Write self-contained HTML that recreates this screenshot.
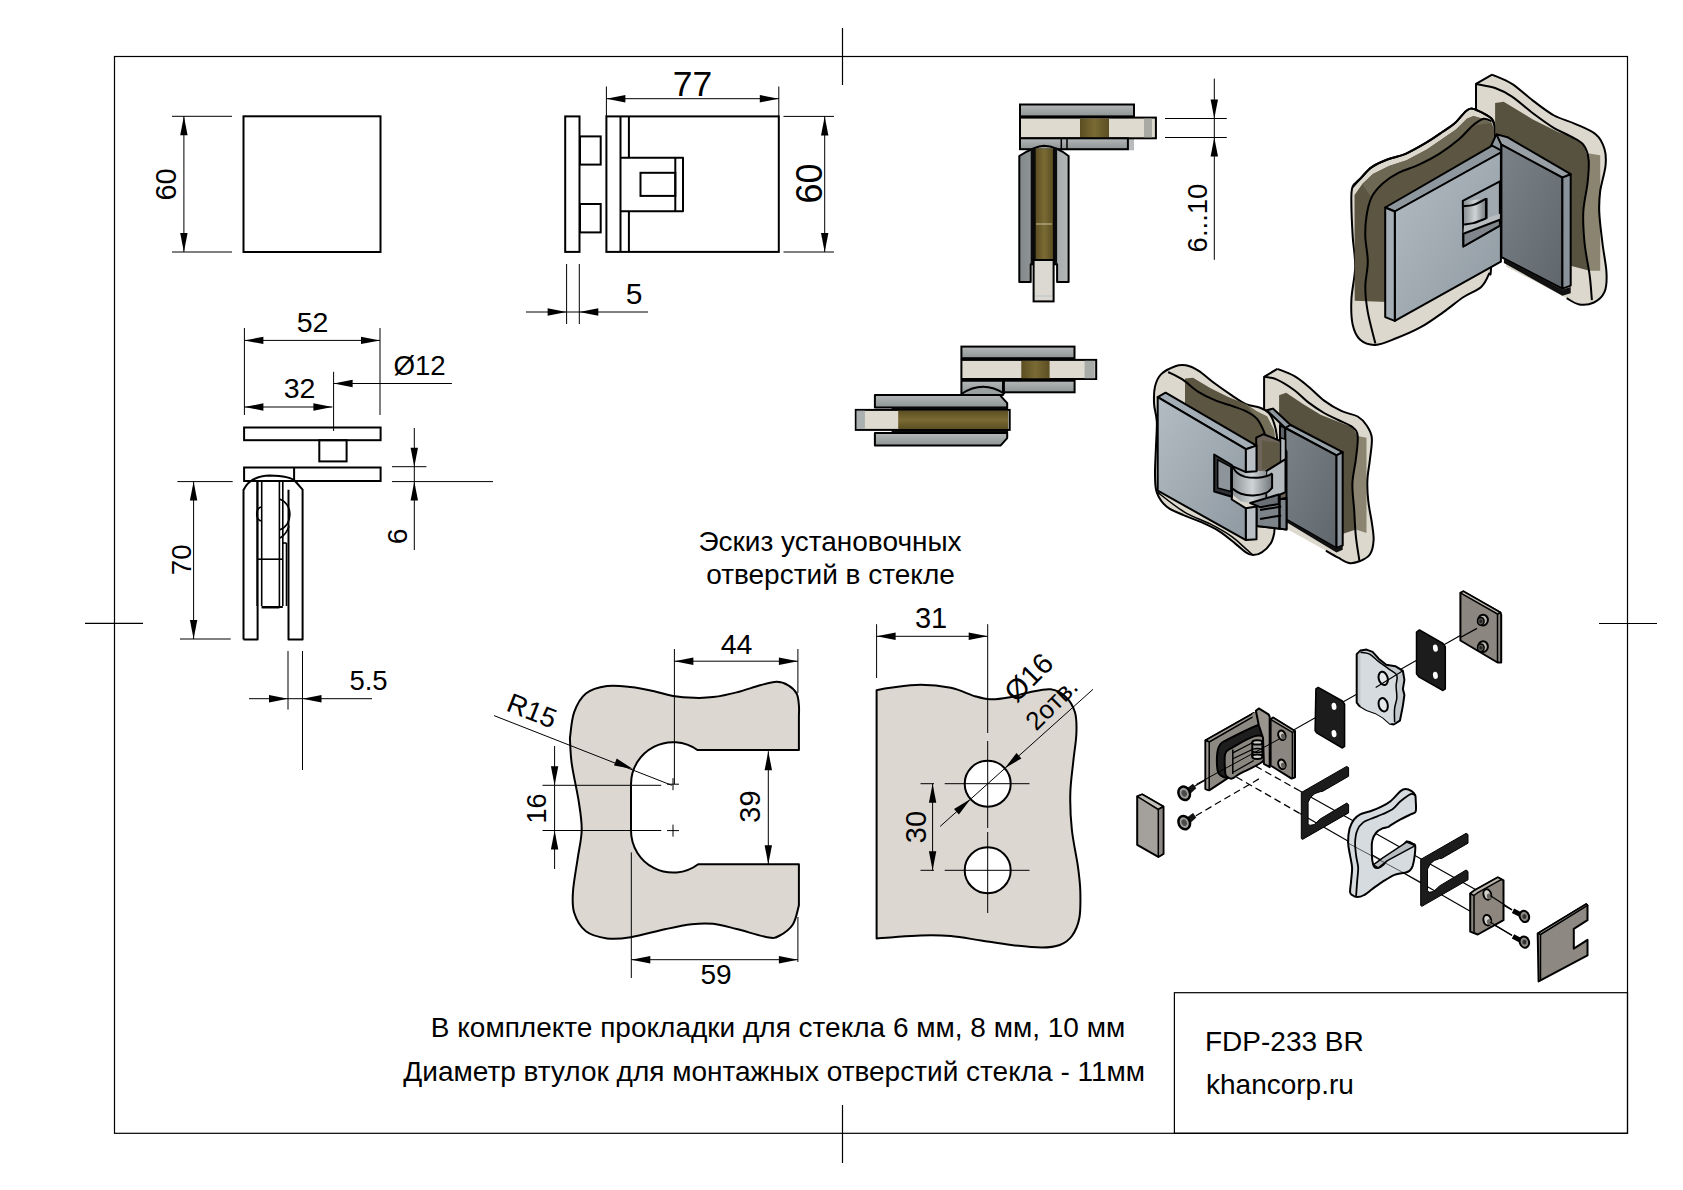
<!DOCTYPE html>
<html><head><meta charset="utf-8"><style>
html,body{margin:0;padding:0;background:#fff;width:1683px;height:1190px;overflow:hidden}
svg{position:absolute;left:0;top:0}
text{font-family:"Liberation Sans",sans-serif;fill:#000}
</style></head><body>
<svg width="1683" height="1190" viewBox="0 0 1683 1190">
<rect x="114.5" y="56.5" width="1513.0" height="1076.8" fill="none" stroke="#000" stroke-width="1.2"/>
<line x1="842.5" y1="28.0" x2="842.5" y2="85.0" stroke="#000" stroke-width="1.2" />
<line x1="842.5" y1="1105.0" x2="842.5" y2="1163.0" stroke="#000" stroke-width="1.2" />
<line x1="85.0" y1="623.4" x2="143.0" y2="623.4" stroke="#000" stroke-width="1.2" />
<line x1="1599.0" y1="623.5" x2="1657.0" y2="623.5" stroke="#000" stroke-width="1.2" />
<rect x="243.5" y="116.3" width="137.0" height="135.7" fill="none" stroke="#000" stroke-width="2"/>
<line x1="172.0" y1="116.3" x2="232.0" y2="116.3" stroke="#000" stroke-width="1" />
<line x1="172.0" y1="252.0" x2="232.0" y2="252.0" stroke="#000" stroke-width="1" />
<line x1="183.9" y1="116.3" x2="183.9" y2="252.0" stroke="#000" stroke-width="1" />
<polygon points="183.9,116.3 187.6,135.3 180.2,135.3" fill="#000"/>
<polygon points="183.9,252.0 180.2,233.0 187.6,233.0" fill="#000"/>
<text transform="translate(176.0,184.4) rotate(-90)" text-anchor="middle" font-size="29" >60</text>
<rect x="565.2" y="116.4" width="14.3" height="135.5" fill="none" stroke="#000" stroke-width="2"/>
<rect x="580.0" y="136.4" width="20.7" height="28.2" fill="none" stroke="#000" stroke-width="2"/>
<rect x="580.0" y="204.0" width="20.7" height="28.4" fill="none" stroke="#000" stroke-width="2"/>
<rect x="606.4" y="116.4" width="172.4" height="135.5" fill="none" stroke="#000" stroke-width="2"/>
<line x1="620.5" y1="116.4" x2="620.5" y2="251.9" stroke="#000" stroke-width="2" />
<line x1="628.9" y1="116.4" x2="628.9" y2="157.8" stroke="#000" stroke-width="2" />
<line x1="628.9" y1="211.2" x2="628.9" y2="251.9" stroke="#000" stroke-width="2" />
<polyline points="620.5,157.8 683.0,157.8 683.0,211.2 620.5,211.2" fill="none" stroke="#000" stroke-width="2" stroke-linejoin="round" />
<line x1="675.3" y1="157.8" x2="675.3" y2="211.2" stroke="#000" stroke-width="2" />
<rect x="640.5" y="172.8" width="34.8" height="23.1" fill="none" stroke="#000" stroke-width="2"/>
<line x1="606.4" y1="86.5" x2="606.4" y2="116.0" stroke="#000" stroke-width="1" />
<line x1="778.8" y1="86.5" x2="778.8" y2="116.0" stroke="#000" stroke-width="1" />
<line x1="606.4" y1="98.7" x2="778.8" y2="98.7" stroke="#000" stroke-width="1" />
<polygon points="606.4,98.7 625.4,95.0 625.4,102.4" fill="#000"/>
<polygon points="778.8,98.7 759.8,102.4 759.8,95.0" fill="#000"/>
<text x="692.5" y="95.7" text-anchor="middle" font-size="35.5" >77</text>
<line x1="783.5" y1="116.4" x2="834.0" y2="116.4" stroke="#000" stroke-width="1" />
<line x1="783.5" y1="252.0" x2="834.0" y2="252.0" stroke="#000" stroke-width="1" />
<line x1="824.7" y1="116.4" x2="824.7" y2="252.0" stroke="#000" stroke-width="1" />
<polygon points="824.7,116.4 828.4,135.4 821.0,135.4" fill="#000"/>
<polygon points="824.7,252.0 821.0,233.0 828.4,233.0" fill="#000"/>
<text transform="translate(821.7,183.5) rotate(-90)" text-anchor="middle" font-size="36" >60</text>
<line x1="566.6" y1="264.0" x2="566.6" y2="324.0" stroke="#000" stroke-width="1" />
<line x1="579.3" y1="264.0" x2="579.3" y2="324.0" stroke="#000" stroke-width="1" />
<line x1="526.0" y1="312.0" x2="648.0" y2="312.0" stroke="#000" stroke-width="1" />
<polygon points="566.6,312.0 547.6,315.7 547.6,308.3" fill="#000"/>
<polygon points="579.3,312.0 598.3,308.3 598.3,315.7" fill="#000"/>
<text x="634.0" y="304.2" text-anchor="middle" font-size="30" >5</text>
<defs><linearGradient id="gplate" x1="0" y1="0" x2="0" y2="1"><stop offset="0" stop-color="#b4b8b8"/><stop offset="1" stop-color="#8e9394"/></linearGradient><linearGradient id="gplateV" x1="0" y1="0" x2="1" y2="0"><stop offset="0" stop-color="#83888a"/><stop offset="1" stop-color="#b3b7b7"/></linearGradient><linearGradient id="gbrownV" x1="0" y1="0" x2="1" y2="0"><stop offset="0" stop-color="#5c4e22"/><stop offset="0.5" stop-color="#7a6a34"/><stop offset="1" stop-color="#5c4e22"/></linearGradient><linearGradient id="gbrownH" x1="0" y1="0" x2="0" y2="1"><stop offset="0" stop-color="#5c4e22"/><stop offset="0.5" stop-color="#7a6a34"/><stop offset="1" stop-color="#5c4e22"/></linearGradient></defs>
<rect x="1061" y="138.3" width="73" height="12" fill="#b9bcbd"/>
<rect x="1020.0" y="104.5" width="114.0" height="11.9" fill="url(#gplate)" stroke="#000" stroke-width="2"/>
<rect x="1020.0" y="117.6" width="135.9" height="20.7" fill="#dedacf" stroke="#000" stroke-width="2"/>
<rect x="1080" y="118.6" width="29" height="18.7" fill="url(#gbrownV)"/>
<rect x="1144" y="118.6" width="8" height="18.7" fill="#a9aaa4"/>
<rect x="1020.0" y="138.3" width="107.9" height="10.9" fill="url(#gplate)" stroke="#000" stroke-width="2"/>
<line x1="1061.3" y1="138.3" x2="1061.3" y2="149.2" stroke="#000" stroke-width="1.5" />
<line x1="1067.0" y1="138.3" x2="1067.0" y2="149.2" stroke="#000" stroke-width="1.5" />
<path d="M1019.3,282.1 L1019.3,156 Q1035,146 1044,145.7 Q1056,146 1068.6,156 L1068.6,282.1 L1057.1,282.1 L1057.1,264.3 L1030.7,264.3 L1030.7,282.1 Z" fill="url(#gplateV)" stroke="#000" stroke-width="2" stroke-linejoin="round" />
<rect x="1030.7" y="148.6" width="26.4" height="115.7" fill="#0a0a0a"/>
<rect x="1035.7" y="148.6" width="17.2" height="111.4" fill="url(#gbrownV)"/>
<line x1="1036.0" y1="224.0" x2="1052.0" y2="224.0" stroke="#c9c0a0" stroke-width="1" />
<rect x="1033.6" y="260.0" width="20.0" height="41.4" fill="#dcd8d2" stroke="#000" stroke-width="2"/>
<line x1="1035.0" y1="296.0" x2="1052.0" y2="296.0" stroke="#b8c4c8" stroke-width="1" />
<line x1="1165.0" y1="118.5" x2="1226.8" y2="118.5" stroke="#000" stroke-width="1" />
<line x1="1165.0" y1="137.5" x2="1226.8" y2="137.5" stroke="#000" stroke-width="1" />
<line x1="1214.3" y1="78.6" x2="1214.3" y2="259.8" stroke="#000" stroke-width="1" />
<polygon points="1214.3,118.5 1210.6,99.5 1218.0,99.5" fill="#000"/>
<polygon points="1214.3,137.5 1218.0,156.5 1210.6,156.5" fill="#000"/>
<text transform="translate(1206.5,218.0) rotate(-90)" text-anchor="middle" font-size="27.5" >6...10</text>
<rect x="961.4" y="346.6" width="113.1" height="11.6" fill="url(#gplate)" stroke="#000" stroke-width="2"/>
<rect x="961.4" y="359.9" width="134.8" height="19.1" fill="#dedacf" stroke="#000" stroke-width="2"/>
<rect x="1021.3" y="360.8" width="28.3" height="17.5" fill="url(#gbrownV)"/>
<rect x="1084.6" y="360.8" width="10.0" height="17.5" fill="#a8aba8"/>
<rect x="1003.9" y="380.7" width="70.7" height="11.6" fill="url(#gplate)" stroke="#000" stroke-width="2"/>
<polygon points="961.4,380.7 1003.0,380.7 1003.0,394.9 961.4,394.9" fill="url(#gplate)" stroke="#000" stroke-width="2" stroke-linejoin="round" />
<path d="M961.4,394.0 Q983.1,379.6 1004.7,394.0" fill="#9a9fa0" stroke="#000" stroke-width="2" stroke-linejoin="round" />
<polygon points="874.9,394.9 999.7,394.9 1007.2,403.2 1007.2,407.4 874.9,407.4" fill="url(#gplate)" stroke="#000" stroke-width="2" stroke-linejoin="round" />
<rect x="891.6" y="407.4" width="116.5" height="3.3" fill="#0a0a0a"/>
<rect x="891.6" y="429.8" width="116.5" height="3.3" fill="#0a0a0a"/>
<rect x="855.8" y="409.9" width="153.9" height="20.0" fill="#dedacf" stroke="#000" stroke-width="2"/>
<rect x="898.2" y="410.7" width="109.8" height="18.3" fill="url(#gbrownH)"/>
<rect x="856.6" y="410.7" width="8.3" height="18.3" fill="#aab0b0"/>
<polygon points="874.9,433.1 1007.2,433.1 1007.2,438.1 1000.5,445.6 874.9,445.6" fill="url(#gplate)" stroke="#000" stroke-width="2" stroke-linejoin="round" />
<defs><linearGradient id="gface" x1="0" y1="0" x2="1" y2="1"><stop offset="0" stop-color="#b3bcc3"/><stop offset="1" stop-color="#8f99a1"/></linearGradient><linearGradient id="gface2" x1="0" y1="0" x2="1" y2="1"><stop offset="0" stop-color="#7b8288"/><stop offset="1" stop-color="#5f666c"/></linearGradient><linearGradient id="gbar" x1="0" y1="0" x2="1" y2="0"><stop offset="0" stop-color="#8a9094"/><stop offset="0.5" stop-color="#d0d4d6"/><stop offset="1" stop-color="#70767a"/></linearGradient></defs>
<polygon points="1476.0,83.9 1492.1,74.6 1512.0,83.9 1532.9,100.6 1554.1,115.5 1575.0,123.8 1595.9,134.4 1604.5,149.0 1605.5,165.9 1600.2,191.1 1599.2,212.0 1602.5,243.5 1606.5,273.0 1604.5,291.9 1593.9,302.5 1579.3,304.5 1566.7,298.2 1506.5,266.7 1476.0,143.2" fill="#dcd8cd" stroke="#000" stroke-width="0" stroke-linejoin="round" />
<polygon points="1495.1,102.9 1503.7,101.8 1532.9,119.5 1558.1,132.1 1575.0,138.4 1583.3,144.7 1588.6,159.6 1587.6,182.5 1583.3,212.0 1584.6,243.5 1589.6,270.7 1566.7,264.7 1501.4,236.5 1495.1,140.7" fill="#57523f" stroke="#000" stroke-width="0" stroke-linejoin="round" />
<polygon points="1587.6,153.3 1600.2,155.3 1600.2,270.7 1589.6,270.7 1584.6,243.5 1583.3,212.0 1587.6,182.5 1588.6,159.6" fill="#8a8470" stroke="#000" stroke-width="0" stroke-linejoin="round" />
<path d="M1492.1,74.6 C1495.4,76.2 1505.2,79.6 1512.0,83.9 C1518.8,88.3 1525.9,95.3 1532.9,100.6 C1539.9,105.8 1547.1,111.6 1554.1,115.5 C1561.1,119.3 1568.0,120.6 1575.0,123.8 C1582.0,126.9 1591.0,130.2 1595.9,134.4 C1600.9,138.6 1602.9,143.7 1604.5,149.0 C1606.1,154.2 1606.2,158.9 1605.5,165.9 C1604.8,172.9 1601.3,183.4 1600.2,191.1 C1599.2,198.8 1598.8,203.3 1599.2,212.0 C1599.6,220.7 1601.3,233.3 1602.5,243.5 C1603.7,253.7 1606.2,264.9 1606.5,273.0 C1606.9,281.1 1606.6,287.0 1604.5,291.9 C1602.4,296.8 1598.1,300.4 1593.9,302.5 C1589.7,304.6 1583.8,305.2 1579.3,304.5 C1574.8,303.8 1568.8,299.3 1566.7,298.2" fill="none" stroke="#000" stroke-width="2" stroke-linejoin="round" />
<polyline points="1476.0,143.2 1476.0,83.9 1492.1,74.6" fill="none" stroke="#000" stroke-width="2" stroke-linejoin="round" />
<path d="M1476.0,83.9 C1479.1,84.6 1489.1,85.9 1495.1,88.0 C1501.1,90.1 1505.7,92.4 1512.0,96.6 C1518.3,100.8 1525.9,107.9 1532.9,113.2 C1539.9,118.4 1547.8,124.2 1554.1,128.1 C1560.4,131.9 1565.9,133.6 1570.7,136.4 C1575.6,139.2 1580.4,140.8 1583.3,144.7 C1586.3,148.6 1587.9,153.3 1588.6,159.6 C1589.3,165.9 1588.5,173.8 1587.6,182.5 C1586.7,191.2 1583.8,201.8 1583.3,212.0 C1582.8,222.2 1583.6,233.0 1584.6,243.5 C1585.7,254.0 1588.4,265.6 1589.6,275.0 C1590.9,284.5 1591.5,296.0 1591.9,300.2" fill="none" stroke="#000" stroke-width="2" stroke-linejoin="round" />
<path d="M1352.4,187.3 C1354.0,182.6 1357.8,181.3 1361.0,178.0 C1364.2,174.6 1367.3,170.2 1371.8,167.1 C1376.3,164.0 1382.3,161.5 1388.0,159.3 C1393.6,157.1 1399.3,156.5 1405.6,153.8 C1411.9,151.0 1419.7,146.5 1425.8,142.9 C1431.8,139.4 1437.0,135.7 1441.9,132.3 C1446.8,129.0 1451.3,126.3 1455.3,122.8 C1459.3,119.2 1463.2,113.3 1466.1,110.9 C1469.0,108.6 1469.8,108.2 1472.7,108.7 C1475.6,109.1 1480.4,111.8 1483.5,113.4 C1486.7,115.1 1489.8,116.9 1491.6,118.7 C1493.3,120.5 1493.7,120.2 1494.1,124.3 C1494.5,128.3 1494.6,120.0 1494.1,142.9 C1493.6,165.8 1492.2,239.8 1491.3,261.7 C1490.4,283.6 1490.5,270.1 1488.8,274.3 C1487.1,278.5 1485.4,283.1 1481.2,286.9 C1477.0,290.7 1469.9,292.8 1463.6,297.0 C1457.3,301.2 1450.6,307.0 1443.4,312.1 C1436.3,317.1 1428.7,322.8 1420.7,327.2 C1412.8,331.6 1403.1,335.6 1395.5,338.5 C1388.0,341.5 1381.3,344.6 1375.4,344.9 C1369.5,345.1 1364.0,343.2 1360.2,339.8 C1356.5,336.4 1354.2,331.4 1352.7,324.7 C1351.2,318.0 1351.0,309.1 1351.4,299.5 C1351.8,289.8 1355.0,277.2 1355.2,266.7 C1355.4,256.2 1353.3,246.5 1352.7,236.5 C1352.1,226.4 1351.5,214.4 1351.4,206.2 C1351.4,198.0 1350.8,192.0 1352.4,187.3 Z" fill="#dcd8cd" stroke="#000" stroke-width="2" stroke-linejoin="round" />
<polygon points="1354.5,194.9 1362.3,184.0 1372.9,173.9 1389.0,165.9 1406.6,160.3 1426.8,149.5 1442.9,138.6 1456.0,129.6 1466.9,118.7 1473.4,116.0 1483.5,119.0 1491.6,123.0 1494.1,128.6 1494.1,261.7 1388.0,302.0 1354.7,300.7" fill="#5b5541" stroke="#000" stroke-width="0" stroke-linejoin="round" />
<polygon points="1362.3,184.0 1372.9,173.9 1389.0,165.9 1406.6,160.3 1426.8,149.5 1442.9,138.6 1456.0,129.6 1466.9,118.7 1473.4,116.0 1483.5,119.0 1491.6,123.0 1472.7,125.5 1459.3,138.9 1439.2,153.8 1419.0,164.6 1398.8,172.7 1382.7,183.5 1370.3,196.1" fill="#6d6853" stroke="#000" stroke-width="0" stroke-linejoin="round" />
<path d="M1352.4,187.3 C1353.9,185.7 1357.8,181.3 1361.0,178.0 C1364.2,174.6 1367.3,170.2 1371.8,167.1 C1376.3,164.0 1382.3,161.5 1388.0,159.3 C1393.6,157.1 1399.3,156.5 1405.6,153.8 C1411.9,151.0 1419.7,146.5 1425.8,142.9 C1431.8,139.4 1437.0,135.7 1441.9,132.3 C1446.8,129.0 1451.3,126.3 1455.3,122.8 C1459.3,119.2 1463.2,113.3 1466.1,110.9 C1469.0,108.6 1469.8,108.2 1472.7,108.7 C1475.6,109.1 1480.4,111.8 1483.5,113.4 C1486.7,115.1 1489.8,116.9 1491.6,118.7 C1493.3,120.5 1493.7,123.4 1494.1,124.3" fill="none" stroke="#000" stroke-width="2" stroke-linejoin="round" />
<path d="M1491.6,121.5 C1490.2,121.0 1486.7,118.1 1483.5,118.7 C1480.4,119.4 1476.7,122.2 1472.7,125.5 C1468.6,128.9 1464.9,134.2 1459.3,138.9 C1453.7,143.6 1445.9,149.5 1439.2,153.8 C1432.4,158.1 1425.7,161.5 1419.0,164.6 C1412.3,167.8 1404.9,169.5 1398.8,172.7 C1392.8,175.8 1387.2,179.5 1382.7,183.5 C1378.2,187.6 1374.5,191.5 1371.8,196.9 C1369.2,202.2 1367.6,208.9 1366.6,215.5 C1365.5,222.1 1365.1,228.8 1365.3,236.5 C1365.5,244.1 1367.8,253.3 1367.8,261.7 C1367.8,270.1 1365.3,278.5 1365.3,286.9 C1365.3,295.3 1366.1,302.6 1367.8,312.1 C1369.5,321.5 1374.1,338.3 1375.4,343.6" fill="none" stroke="#000" stroke-width="2" stroke-linejoin="round" />
<polygon points="1385.2,207.5 1496.9,142.9 1500.9,145.7 1500.9,152.5 1394.8,211.5" fill="#8e979e" stroke="#000" stroke-width="2" stroke-linejoin="round" />
<polygon points="1394.8,211.5 1500.9,152.5 1500.9,261.7 1394.8,320.9" fill="url(#gface)" stroke="#000" stroke-width="2" stroke-linejoin="round" />
<polygon points="1385.2,207.5 1394.8,211.5 1394.8,320.9 1385.2,317.1" fill="#a5aeb5" stroke="#000" stroke-width="2" stroke-linejoin="round" />
<polygon points="1462.8,200.9 1499.9,181.3 1499.9,225.6 1463.4,246.5" fill="#a0a9b0" stroke="#000" stroke-width="2" stroke-linejoin="round" />
<polygon points="1464.1,201.4 1486.3,198.1 1486.3,218.3 1464.1,224.4" fill="url(#gbar)" stroke="#000" stroke-width="0" stroke-linejoin="round" />
<polygon points="1464.1,224.4 1473.4,223.1 1486.3,218.3 1499.9,213.8 1499.9,219.8 1463.4,233.7" fill="#b9bdc0" stroke="#000" stroke-width="0" stroke-linejoin="round" />
<polygon points="1463.4,233.7 1499.9,219.8 1499.9,225.6 1463.4,246.5" fill="#80868b" stroke="#000" stroke-width="2" stroke-linejoin="round" />
<path d="M1463.4,206.2 C1465.0,206.0 1469.6,206.2 1473.4,204.9 C1477.3,203.7 1484.1,199.7 1486.3,198.6" fill="none" stroke="#000" stroke-width="2" stroke-linejoin="round" />
<path d="M1464.1,224.4 C1465.7,224.1 1469.7,224.1 1473.4,223.1 C1477.1,222.1 1484.1,219.1 1486.3,218.3" fill="none" stroke="#000" stroke-width="2" stroke-linejoin="round" />
<polyline points="1486.3,198.1 1486.3,218.8" fill="none" stroke="#000" stroke-width="2.5"/>
<polygon points="1491.3,145.2 1496.4,134.4 1507.7,137.4 1501.4,144.7 1501.4,150.7" fill="#8e979e" stroke="#000" stroke-width="2" stroke-linejoin="round" />
<polygon points="1496.4,134.4 1507.7,137.4 1570.7,174.2 1562.4,178.5 1501.4,144.7" fill="#98a0a6" stroke="#000" stroke-width="2" stroke-linejoin="round" />
<polygon points="1501.4,144.7 1562.4,177.5 1562.4,288.6 1501.4,257.1" fill="url(#gface2)" stroke="#000" stroke-width="2" stroke-linejoin="round" />
<polygon points="1562.4,177.5 1570.7,174.2 1570.7,285.6 1562.4,288.6" fill="#8a939a" stroke="#000" stroke-width="2" stroke-linejoin="round" />
<polygon points="1503.9,259.1 1562.4,289.4 1570.7,286.9 1570.7,293.2 1562.4,295.7 1503.9,262.9" fill="#111" stroke="#000" stroke-width="0" stroke-linejoin="round" />
<polygon points="1264.1,376.8 1277.4,368.8 1294.1,375.9 1308.3,386.5 1324.1,400.6 1341.8,411.2 1357.7,416.5 1366.5,425.3 1371.8,437.7 1370.0,458.9 1367.4,480.1 1368.3,501.2 1371.8,522.4 1373.6,540.1 1370.0,554.2 1359.5,561.3 1348.9,563.0 1338.3,557.7 1325.9,550.7 1281.8,526.0 1264.1,413.0" fill="#dcd8cd" stroke="#000" stroke-width="0" stroke-linejoin="round" />
<polygon points="1279.1,395.3 1286.2,392.7 1303.0,404.1 1320.6,414.7 1338.3,421.8 1352.4,427.1 1357.7,435.9 1355.9,458.9 1352.4,483.6 1354.2,510.1 1355.9,529.5 1334.7,536.6 1280.0,515.4 1279.1,413.0" fill="#57523f" stroke="#000" stroke-width="0" stroke-linejoin="round" />
<polygon points="1357.7,435.9 1366.5,437.7 1366.5,533.0 1355.9,529.5 1354.2,510.1 1352.4,483.6 1355.9,458.9" fill="#8a8470" stroke="#000" stroke-width="0" stroke-linejoin="round" />
<path d="M1277.4,368.8 C1280.2,370.0 1289.0,372.9 1294.1,375.9 C1299.3,378.8 1303.3,382.4 1308.3,386.5 C1313.3,390.6 1318.6,396.5 1324.1,400.6 C1329.7,404.7 1336.2,408.6 1341.8,411.2 C1347.4,413.8 1353.6,414.1 1357.7,416.5 C1361.8,418.9 1364.2,421.8 1366.5,425.3 C1368.9,428.9 1371.2,432.1 1371.8,437.7 C1372.4,443.3 1370.8,451.8 1370.0,458.9 C1369.3,465.9 1367.7,473.0 1367.4,480.1 C1367.1,487.1 1367.5,494.2 1368.3,501.2 C1369.0,508.3 1370.9,516.0 1371.8,522.4 C1372.7,528.9 1373.9,534.8 1373.6,540.1 C1373.3,545.4 1372.4,550.7 1370.0,554.2 C1367.7,557.7 1363.0,559.8 1359.5,561.3 C1355.9,562.7 1352.4,563.6 1348.9,563.0 C1345.3,562.4 1342.1,559.8 1338.3,557.7 C1334.4,555.7 1328.0,551.9 1325.9,550.7" fill="none" stroke="#000" stroke-width="2" stroke-linejoin="round" />
<polyline points="1264.1,413.0 1264.1,376.8 1277.4,368.8" fill="none" stroke="#000" stroke-width="2" stroke-linejoin="round" />
<path d="M1264.1,376.8 C1266.2,377.2 1271.5,377.2 1276.5,379.4 C1281.5,381.6 1288.8,386.2 1294.1,390.0 C1299.4,393.8 1303.3,398.5 1308.3,402.4 C1313.3,406.2 1319.1,410.0 1324.1,413.0 C1329.1,415.9 1333.6,417.7 1338.3,420.0 C1343.0,422.4 1349.2,424.4 1352.4,427.1 C1355.6,429.7 1357.1,430.6 1357.7,435.9 C1358.3,441.2 1356.8,450.9 1355.9,458.9 C1355.0,466.8 1352.7,475.1 1352.4,483.6 C1352.1,492.1 1353.6,501.2 1354.2,510.1 C1354.7,518.9 1355.0,528.0 1355.9,536.6 C1356.8,545.1 1358.9,557.2 1359.5,561.3" fill="none" stroke="#000" stroke-width="2" stroke-linejoin="round" />
<polygon points="1266.8,410.3 1272.9,408.6 1290.6,425.0 1285.3,428.0" fill="#8f989e" stroke="#000" stroke-width="2" stroke-linejoin="round" />
<polygon points="1280.0,425.3 1285.3,428.0 1285.3,526.0 1280.0,523.3" fill="#5d6368" stroke="#000" stroke-width="2" stroke-linejoin="round" />
<polygon points="1285.3,428.0 1290.6,425.0 1342.7,452.2 1336.5,455.3" fill="#98a2a9" stroke="#000" stroke-width="2" stroke-linejoin="round" />
<polygon points="1285.3,428.0 1336.5,455.3 1336.5,548.0 1285.3,518.9" fill="url(#gface2)" stroke="#000" stroke-width="2" stroke-linejoin="round" />
<polygon points="1336.5,455.3 1342.7,452.2 1342.7,545.4 1336.5,548.0" fill="#8d969d" stroke="#000" stroke-width="2" stroke-linejoin="round" />
<polygon points="1285.3,518.9 1336.5,548.0 1342.7,545.4 1342.7,549.8 1336.5,552.4 1285.3,521.5" fill="#111" stroke="#000" stroke-width="0" stroke-linejoin="round" />
<path d="M1155.0,386.5 C1156.2,381.5 1157.8,377.5 1161.2,374.1 C1164.6,370.7 1171.2,367.7 1175.3,366.2 C1179.4,364.7 1182.1,364.6 1185.9,365.3 C1189.7,366.0 1193.6,367.7 1198.3,370.6 C1203.0,373.5 1208.6,378.8 1214.2,383.0 C1219.7,387.1 1226.5,391.8 1231.8,395.3 C1237.1,398.8 1241.2,402.1 1245.9,404.1 C1250.6,406.2 1256.2,406.2 1260.1,407.7 C1263.9,409.1 1266.5,410.3 1268.9,413.0 C1271.2,415.6 1272.9,419.7 1274.2,423.6 C1275.5,427.4 1276.2,430.0 1276.8,435.9 C1277.4,441.8 1277.3,446.5 1277.7,458.9 C1278.2,471.2 1279.9,500.1 1279.5,510.1 C1279.0,520.1 1275.9,515.1 1275.1,518.9 C1274.2,522.7 1274.9,528.9 1274.2,533.0 C1273.4,537.1 1272.7,540.4 1270.6,543.6 C1268.6,546.9 1264.8,550.5 1261.8,552.4 C1258.9,554.4 1255.6,555.1 1253.0,555.1 C1250.3,555.1 1248.9,554.4 1245.9,552.4 C1243.0,550.5 1239.8,547.1 1235.3,543.6 C1230.9,540.1 1225.0,534.8 1219.4,531.3 C1213.9,527.7 1207.7,525.1 1201.8,522.4 C1195.9,519.8 1190.0,518.0 1184.1,515.4 C1178.3,512.7 1171.0,510.4 1166.5,506.5 C1161.9,502.7 1158.7,497.7 1156.8,492.4 C1154.9,487.1 1155.2,482.1 1155.0,474.8 C1154.9,467.4 1155.6,457.1 1155.9,448.3 C1156.2,439.4 1157.1,429.2 1156.8,421.8 C1156.5,414.4 1154.4,410.0 1154.1,404.1 C1153.8,398.3 1153.8,391.5 1155.0,386.5 Z" fill="#dcd8cd" stroke="#000" stroke-width="2" stroke-linejoin="round" />
<polygon points="1185.0,378.5 1193.0,377.7 1210.6,388.2 1228.3,397.1 1245.9,404.1 1256.5,411.2 1267.1,416.5 1274.2,430.6 1275.9,458.9 1245.9,458.9 1185.0,413.0" fill="#5b5541" stroke="#000" stroke-width="0" stroke-linejoin="round" />
<polygon points="1245.9,404.1 1256.5,411.2 1267.1,416.5 1274.2,430.6 1275.9,458.9 1267.1,458.9 1263.6,430.6 1256.5,418.3" fill="#736e58" stroke="#000" stroke-width="0" stroke-linejoin="round" />
<path d="M1168.2,372.0 C1170.6,373.2 1177.4,376.1 1182.4,379.4 C1187.4,382.7 1192.7,388.2 1198.3,391.8 C1203.9,395.3 1210.3,398.3 1215.9,400.6 C1221.5,403.0 1226.8,404.1 1231.8,405.9 C1236.8,407.7 1241.8,409.1 1245.9,411.2 C1250.1,413.3 1253.6,415.0 1256.5,418.3 C1259.5,421.5 1261.8,426.5 1263.6,430.6 C1265.4,434.7 1266.2,438.3 1267.1,443.0 C1268.0,447.7 1268.6,456.2 1268.9,458.9" fill="none" stroke="#000" stroke-width="2" stroke-linejoin="round" />
<path d="M1157.7,492.4 C1162.1,495.7 1175.3,506.5 1184.1,511.8 C1193.0,517.1 1202.7,520.1 1210.6,524.2 C1218.6,528.3 1225.9,532.4 1231.8,536.6 C1237.7,540.7 1242.4,545.8 1245.9,548.9 C1249.5,552.0 1251.8,554.1 1253.0,555.1" fill="none" stroke="#000" stroke-width="1.5" stroke-linejoin="round" />
<polygon points="1256.2,437.7 1263.6,434.2 1281.2,441.2 1286.5,451.8 1286.5,529.5 1256.5,526.0" fill="#6e655a" stroke="#000" stroke-width="2" stroke-linejoin="round" />
<polygon points="1256.5,504.8 1286.5,497.7 1286.5,529.5 1256.5,526.0" fill="#7d8489" stroke="#000" stroke-width="2" stroke-linejoin="round" />
<polyline points="1260.1,510.1 1281.2,506.5" fill="none" stroke="#000" stroke-width="2"/>
<polyline points="1260.1,518.9 1281.2,515.4" fill="none" stroke="#000" stroke-width="2"/>
<polyline points="1279.5,465.9 1279.5,529.5" fill="none" stroke="#000" stroke-width="2.5"/>
<polygon points="1262.0,440.3 1278.8,443.0 1278.8,465.9 1262.0,469.5" fill="#5e5844" stroke="#000" stroke-width="0" stroke-linejoin="round" />
<polygon points="1280.5,437.7 1285.5,439.4 1285.5,492.1 1280.5,494.2" fill="#b3b9bd" stroke="#000" stroke-width="1.5" stroke-linejoin="round" />
<polygon points="1266.2,471.1 1285.5,459.2 1285.5,492.1 1266.2,500.5" fill="#b3b9bd" stroke="#000" stroke-width="2" stroke-linejoin="round" />
<polygon points="1232.5,465.9 1245.2,470.3 1266.2,471.2 1266.2,476.9 1272.1,473.5 1272.1,488.7 1266.2,494.2 1266.2,503.0 1253.0,503.9 1240.6,501.2 1232.5,494.5" fill="url(#gbar)" stroke="#000" stroke-width="0" stroke-linejoin="round" />
<path d="M1232.5,465.9 C1233.2,467.1 1234.6,470.8 1236.8,472.6 C1238.9,474.5 1241.7,476.0 1245.2,476.9 C1248.7,477.7 1254.1,477.9 1257.8,477.8 C1261.4,477.6 1264.6,476.7 1266.9,476.0 C1269.3,475.3 1271.2,473.9 1272.1,473.5" fill="none" stroke="#000" stroke-width="2" stroke-linejoin="round" />
<path d="M1232.5,488.7 C1233.9,489.6 1237.5,492.7 1241.0,493.8 C1244.5,494.9 1249.3,495.6 1253.5,495.4 C1257.7,495.3 1263.1,494.2 1266.2,492.9 C1269.3,491.7 1271.1,488.7 1272.1,487.8" fill="none" stroke="#000" stroke-width="2" stroke-linejoin="round" />
<polyline points="1272.1,473.5 1272.1,488.7" fill="none" stroke="#000" stroke-width="2" stroke-linejoin="round" />
<polyline points="1266.2,493.8 1266.2,501.2" fill="none" stroke="#000" stroke-width="1.5" stroke-linejoin="round" />
<polygon points="1250.2,503.0 1278.8,494.5 1278.8,503.9 1260.2,507.2" fill="#6a7075" stroke="#000" stroke-width="2" stroke-linejoin="round" />
<polygon points="1157.7,397.1 1165.6,392.7 1256.5,445.6 1245.9,449.2" fill="#a3adb5" stroke="#000" stroke-width="2" stroke-linejoin="round" />
<polygon points="1157.7,397.1 1245.9,449.2 1245.9,472.1 1231.8,465.9 1231.8,499.5 1245.9,508.3 1245.9,540.1 1157.7,490.6" fill="url(#gface)" stroke="#000" stroke-width="2" stroke-linejoin="round" />
<polygon points="1245.9,449.2 1256.5,445.6 1256.5,471.2 1245.9,472.1" fill="#b8c0c5" stroke="#000" stroke-width="2" stroke-linejoin="round" />
<polygon points="1245.9,508.3 1256.5,506.5 1256.5,539.2 1245.9,540.1" fill="#b8c0c5" stroke="#000" stroke-width="2" stroke-linejoin="round" />
<polygon points="1214.2,454.5 1231.8,465.0 1231.8,496.8 1214.2,491.5" fill="#2e3236" stroke="#000" stroke-width="2" stroke-linejoin="round" />
<polygon points="1217.7,459.8 1230.9,466.8 1230.9,491.5 1217.7,488.0" fill="#8d949a" stroke="#000" stroke-width="1.5" stroke-linejoin="round" />
<polyline points="1194.1,786.4 1477.1,625.9" fill="none" stroke="#000" stroke-width="1.2"/>
<polyline points="1195.9,815.7 1261.1,777.6" fill="none" stroke="#000" stroke-width="1.2" stroke-dasharray="7,4"/>
<polyline points="1236.4,755.4 1300.0,791.0" fill="none" stroke="#000" stroke-width="1.2" stroke-dasharray="7,4"/>
<polyline points="1300.0,791.0 1512.0,909.9" fill="none" stroke="#000" stroke-width="1.2"/>
<polyline points="1236.4,776.9 1300.0,813.6" fill="none" stroke="#000" stroke-width="1.2" stroke-dasharray="7,4"/>
<polyline points="1300.0,813.6 1512.0,935.3" fill="none" stroke="#000" stroke-width="1.2"/>
<polygon points="1137.2,796.4 1142.2,794.4 1163.4,806.5 1163.4,853.9 1158.3,856.9 1137.2,844.8" fill="#a4a19c" stroke="#000" stroke-width="2" stroke-linejoin="round" />
<polygon points="1137.2,796.4 1142.2,794.4 1163.4,806.5 1158.3,809.5" fill="#c4c1bc" stroke="#000" stroke-width="1.5" stroke-linejoin="round" />
<polygon points="1158.3,809.5 1163.4,806.5 1163.4,853.9 1158.3,856.9" fill="#8c8984" stroke="#000" stroke-width="1.5" stroke-linejoin="round" />
<polygon points="1185.6,789.3 1193.0,783.7 1196.3,788.3 1189.0,795.0" fill="#151515" stroke="#000" stroke-width="0" stroke-linejoin="round" />
<ellipse cx="1184.2" cy="793.3" rx="5.6" ry="6.9" fill="#a09e9a" stroke="#000" stroke-width="2.5" transform="rotate(-25 1184.2 793.3)"/>
<ellipse cx="1184.2" cy="793.3" rx="2.6" ry="3.4" fill="#4a4a4a" stroke="#000" stroke-width="0" transform="rotate(-25 1184.2 793.3)"/>
<polygon points="1185.6,818.6 1193.0,812.9 1196.3,817.6 1189.0,824.2" fill="#151515" stroke="#000" stroke-width="0" stroke-linejoin="round" />
<ellipse cx="1184.2" cy="822.6" rx="5.6" ry="6.9" fill="#a09e9a" stroke="#000" stroke-width="2.5" transform="rotate(-25 1184.2 822.6)"/>
<ellipse cx="1184.2" cy="822.6" rx="2.6" ry="3.4" fill="#4a4a4a" stroke="#000" stroke-width="0" transform="rotate(-25 1184.2 822.6)"/>
<polygon points="1205.5,740.3 1253.8,713.0 1257.1,713.9 1257.1,758.8 1209.2,790.3 1205.5,789.1" fill="#8c8882" stroke="#000" stroke-width="2" stroke-linejoin="round" />
<polygon points="1205.5,740.3 1253.8,713.0 1257.1,714.3 1209.2,742.0" fill="#a29e97" stroke="#000" stroke-width="1.5" stroke-linejoin="round" />
<polygon points="1205.5,740.3 1209.2,742.0 1209.2,790.3 1205.5,789.1" fill="#a09c95" stroke="#000" stroke-width="1.5" stroke-linejoin="round" />
<polygon points="1252.1,713.9 1258.0,710.1 1263.9,727.7 1263.9,738.7 1255.5,737.0" fill="#8c8882" stroke="#000" stroke-width="0" stroke-linejoin="round" />
<path d="M1227.7,739.5 C1234.2,736.2 1252.7,726.8 1258.8,724.8 C1265.0,722.8 1263.7,725.8 1264.7,727.7 C1265.7,729.6 1269.9,732.4 1264.7,736.1 C1259.5,739.9 1239.1,744.1 1233.6,750.4 C1228.2,756.7 1232.9,769.4 1231.9,773.9 C1231.0,778.5 1229.6,777.5 1227.7,777.7 C1225.9,778.0 1222.7,776.8 1221.0,775.6 C1219.3,774.4 1218.3,774.2 1217.6,770.6 C1217.0,766.9 1216.8,758.1 1217.2,753.8 C1217.6,749.4 1218.4,746.9 1220.2,744.5 C1221.9,742.2 1221.3,742.8 1227.7,739.5 Z" fill="#1e1e1e" stroke="#000" stroke-width="2" stroke-linejoin="round" />
<path d="M1225.2,753.8 C1226.3,749.7 1227.0,750.8 1231.9,747.9 C1236.8,745.0 1249.0,737.5 1254.6,736.1 C1260.2,734.7 1263.7,735.7 1265.5,739.5 C1267.4,743.3 1269.9,753.1 1265.5,758.8 C1261.2,764.6 1245.1,770.7 1239.5,773.9 C1233.9,777.2 1234.0,778.2 1231.9,778.6 C1229.8,779.0 1228.0,777.5 1226.9,776.5 C1225.8,775.4 1225.5,776.1 1225.2,772.3 C1224.9,768.5 1224.1,757.8 1225.2,753.8 Z" fill="#8a8680" stroke="#000" stroke-width="2" stroke-linejoin="round" />
<polyline points="1232.8,752.9 1253.8,742.0" fill="none" stroke="#000" stroke-width="1.2"/>
<polyline points="1232.8,758.8 1253.8,748.7" fill="none" stroke="#000" stroke-width="1.2"/>
<polyline points="1233.2,772.3 1253.8,760.5" fill="none" stroke="#000" stroke-width="1.2"/>
<polyline points="1232.8,749.6 1232.8,773.9" fill="none" stroke="#000" stroke-width="1.5"/>
<polygon points="1252.3,742.0 1262.4,742.0 1262.4,757.1 1252.3,757.1" fill="#a3a29e" stroke="#000" stroke-width="0" stroke-linejoin="round" />
<polyline points="1252.3,742.0 1252.3,757.1" fill="none" stroke="#000" stroke-width="2"/>
<polyline points="1262.4,742.0 1262.4,757.1" fill="none" stroke="#000" stroke-width="2"/>
<ellipse cx="1257.3" cy="742.4" rx="5.0" ry="2.2" fill="#d2d2ce" stroke="#000" stroke-width="2" transform="rotate(0 1257.3 742.4)"/>
<ellipse cx="1257.3" cy="750.4" rx="5.0" ry="1.8" fill="#8f8e8a" stroke="#000" stroke-width="1.5" transform="rotate(0 1257.3 750.4)"/>
<ellipse cx="1257.3" cy="756.7" rx="5.0" ry="2.2" fill="#d2d2ce" stroke="#000" stroke-width="2" transform="rotate(0 1257.3 756.7)"/>
<polygon points="1255.9,710.8 1258.8,708.4 1268.5,714.3 1269.7,716.8 1269.7,767.2 1263.9,763.9 1263.0,737.8 1258.8,725.2" fill="#9a968f" stroke="#000" stroke-width="2" stroke-linejoin="round" />
<polygon points="1270.6,719.3 1273.1,717.6 1295.0,731.1 1295.0,777.3 1291.6,778.6 1270.6,765.5" fill="#8b8680" stroke="#000" stroke-width="2" stroke-linejoin="round" />
<polygon points="1270.6,719.3 1273.1,717.6 1295.0,731.1 1292.4,732.4" fill="#a7a39c" stroke="#000" stroke-width="1.5" stroke-linejoin="round" />
<polyline points="1292.4,732.4 1292.4,778.2" fill="none" stroke="#000" stroke-width="1.5"/>
<ellipse cx="1281.9" cy="735.3" rx="3.5" ry="4.9" fill="#cdcac4" stroke="#000" stroke-width="2" transform="rotate(-20 1281.9 735.3)"/>
<ellipse cx="1283.2" cy="736.6" rx="2.1" ry="2.9" fill="#5e5a55" stroke="#000" stroke-width="0" transform="rotate(-20 1283.2 736.6)"/>
<ellipse cx="1281.9" cy="764.3" rx="3.5" ry="4.9" fill="#cdcac4" stroke="#000" stroke-width="2" transform="rotate(-20 1281.9 764.3)"/>
<ellipse cx="1283.2" cy="765.5" rx="2.1" ry="2.9" fill="#5e5a55" stroke="#000" stroke-width="0" transform="rotate(-20 1283.2 765.5)"/>
<polyline points="1196.3,784.3 1279.4,738.9" fill="none" stroke="#000" stroke-width="1"/>
<polygon points="1315.9,688.9 1318.2,687.4 1342.4,701.0 1344.6,704.1 1344.6,746.4 1342.4,748.0 1316.6,732.8 1315.1,730.6" fill="#1c1c1c" stroke="#000" stroke-width="1.5" stroke-linejoin="round" />
<ellipse cx="1334.0" cy="706.3" rx="2.4" ry="3.6" fill="#fff" stroke="#000" stroke-width="0" transform="rotate(-10 1334.0 706.3)"/>
<ellipse cx="1334.0" cy="733.6" rx="2.4" ry="3.6" fill="#fff" stroke="#000" stroke-width="0" transform="rotate(-10 1334.0 733.6)"/>
<polygon points="1356.7,654.1 1360.5,650.4 1366.6,649.6 1372.6,651.9 1378.7,658.7 1386.2,664.7 1395.3,666.2 1402.9,670.8 1404.4,679.9 1402.9,688.9 1404.4,695.0 1402.9,705.6 1401.4,713.2 1399.9,720.7 1393.8,724.5 1390.0,723.7 1383.2,717.7 1375.7,713.2 1366.6,710.1 1359.0,705.6 1356.7,702.6" fill="#c3c8cc" stroke="#000" stroke-width="2" stroke-linejoin="round" />
<polygon points="1360.5,654.1 1369.6,654.1 1378.7,661.7 1389.3,669.3 1396.8,675.3 1396.1,685.9 1396.8,698.0 1394.6,708.6 1394.6,722.2 1390.0,723.7 1383.2,717.7 1375.7,713.2 1366.6,710.1 1360.5,706.3" fill="#d6dbdf" stroke="#000" stroke-width="0" stroke-linejoin="round" />
<path d="M1360.5,652.3 C1362.0,652.6 1366.6,652.6 1369.6,654.1 C1372.6,655.7 1375.4,659.2 1378.7,661.7 C1382.0,664.2 1386.2,667.0 1389.3,669.3 C1392.3,671.5 1395.7,672.6 1396.8,675.3 C1398.0,678.1 1396.1,682.1 1396.1,685.9 C1396.1,689.7 1397.1,694.2 1396.8,698.0 C1396.6,701.8 1394.9,704.6 1394.6,708.6 C1394.2,712.6 1394.6,720.0 1394.6,722.2" fill="none" stroke="#000" stroke-width="1.5" stroke-linejoin="round" />
<ellipse cx="1383.2" cy="678.4" rx="4.5" ry="6.8" fill="#e6e9eb" stroke="#000" stroke-width="2" transform="rotate(-15 1383.2 678.4)"/>
<ellipse cx="1383.2" cy="704.8" rx="4.5" ry="6.8" fill="#e6e9eb" stroke="#000" stroke-width="2" transform="rotate(-15 1383.2 704.8)"/>
<polyline points="1375.7,687.4 1402.9,670.8" fill="none" stroke="#000" stroke-width="1.2"/>
<polygon points="1416.5,632.2 1419.5,629.9 1443.0,643.5 1445.3,646.6 1445.3,688.9 1443.0,690.5 1418.8,676.8 1416.5,673.8" fill="#1c1c1c" stroke="#000" stroke-width="1.5" stroke-linejoin="round" />
<ellipse cx="1435.4" cy="648.1" rx="2.4" ry="3.6" fill="#fff" stroke="#000" stroke-width="0" transform="rotate(-10 1435.4 648.1)"/>
<ellipse cx="1435.4" cy="675.3" rx="2.4" ry="3.6" fill="#fff" stroke="#000" stroke-width="0" transform="rotate(-10 1435.4 675.3)"/>
<polygon points="1460.4,592.9 1463.4,591.3 1500.5,612.5 1501.2,614.8 1501.2,662.5 1497.5,662.5 1460.4,640.5" fill="#8b867f" stroke="#000" stroke-width="2" stroke-linejoin="round" />
<polygon points="1460.4,592.9 1463.4,591.3 1500.5,612.5 1497.5,614.0" fill="#c4bfb8" stroke="#000" stroke-width="1.5" stroke-linejoin="round" />
<polyline points="1497.5,614.0 1497.5,662.5" fill="none" stroke="#000" stroke-width="1.5" stroke-linejoin="round" />
<ellipse cx="1483.1" cy="620.1" rx="4.8" ry="5.4" fill="#b9b5ae" stroke="#000" stroke-width="2" transform="rotate(0 1483.1 620.1)"/>
<ellipse cx="1480.8" cy="621.3" rx="3.3" ry="3.9" fill="#5a5752" stroke="#000" stroke-width="1.5" transform="rotate(0 1480.8 621.3)"/>
<ellipse cx="1480.8" cy="621.3" rx="1.5" ry="1.8" fill="#222" stroke="#000" stroke-width="0" transform="rotate(0 1480.8 621.3)"/>
<ellipse cx="1483.1" cy="646.6" rx="4.8" ry="5.4" fill="#b9b5ae" stroke="#000" stroke-width="2" transform="rotate(0 1483.1 646.6)"/>
<ellipse cx="1480.8" cy="647.8" rx="3.3" ry="3.9" fill="#5a5752" stroke="#000" stroke-width="1.5" transform="rotate(0 1480.8 647.8)"/>
<ellipse cx="1480.8" cy="647.8" rx="1.5" ry="1.8" fill="#222" stroke="#000" stroke-width="0" transform="rotate(0 1480.8 647.8)"/>
<polyline points="1460.4,637.5 1477.0,628.4" fill="none" stroke="#000" stroke-width="1.2"/>
<polygon points="1301.3,792.5 1346.7,766.4 1348.6,767.6 1348.6,776.3 1322.5,791.4 1320.2,791.7 1314.9,793.6 1310.8,797.0 1308.1,802.3 1308.1,823.5 1309.7,825.4 1314.2,824.6 1320.2,819.0 1346.7,803.1 1348.6,804.6 1348.6,812.9 1302.5,839.4 1301.3,838.6" fill="#1c1c1c" stroke="#000" stroke-width="1" stroke-linejoin="round" />
<path d="M1350.1,892.0 C1349.9,889.7 1350.8,884.9 1351.1,880.9 C1351.4,876.9 1352.3,872.0 1352.1,867.8 C1351.9,863.6 1350.8,859.9 1350.1,855.7 C1349.4,851.5 1348.2,847.1 1348.1,842.6 C1348.0,838.0 1348.6,832.3 1349.6,828.4 C1350.6,824.6 1352.4,821.7 1354.1,819.4 C1355.9,817.0 1357.5,815.7 1360.2,814.3 C1362.9,813.0 1366.9,812.5 1370.3,811.3 C1373.6,810.1 1377.0,808.9 1380.4,807.2 C1383.7,805.6 1387.1,803.9 1390.5,801.2 C1393.8,798.5 1398.0,793.1 1400.5,791.1 C1403.1,789.1 1403.7,789.1 1405.6,789.1 C1407.4,789.1 1410.0,790.1 1411.6,791.1 C1413.2,792.1 1414.5,793.6 1415.2,795.1 C1415.8,796.6 1415.6,797.5 1415.7,800.2 C1415.8,802.9 1416.5,808.9 1415.7,811.3 C1414.8,813.6 1413.2,813.0 1410.6,814.3 C1408.1,815.7 1403.9,817.5 1400.5,819.4 C1397.2,821.2 1392.5,824.1 1390.5,825.4 C1388.4,826.7 1389.8,826.4 1388.4,826.9 C1387.1,827.4 1384.4,827.5 1382.4,828.4 C1380.4,829.4 1378.0,830.5 1376.3,832.5 C1374.6,834.5 1373.0,837.5 1372.3,840.5 C1371.5,843.6 1371.8,847.3 1371.8,850.6 C1371.8,854.0 1371.9,858.0 1372.3,860.7 C1372.7,863.4 1373.3,865.6 1374.3,866.8 C1375.3,868.0 1376.8,868.1 1378.3,867.8 C1379.9,867.5 1381.9,866.1 1383.4,864.8 C1384.9,863.4 1385.2,861.7 1387.4,859.7 C1389.6,857.7 1393.5,855.5 1396.5,852.7 C1399.5,849.8 1403.7,844.4 1405.6,842.6 C1407.4,840.7 1406.4,841.4 1407.6,841.6 C1408.8,841.7 1411.4,842.9 1412.7,843.6 C1413.9,844.2 1414.8,843.6 1415.2,845.6 C1415.5,847.6 1415.1,852.3 1414.7,855.7 C1414.3,859.0 1413.5,863.2 1412.7,865.8 C1411.8,868.3 1411.0,869.6 1409.6,870.8 C1408.3,872.0 1407.1,872.2 1404.6,872.8 C1402.1,873.5 1398.2,873.3 1394.5,874.9 C1390.8,876.4 1386.1,879.6 1382.4,881.9 C1378.7,884.3 1375.3,886.8 1372.3,889.0 C1369.3,891.2 1366.7,893.7 1364.2,895.0 C1361.7,896.4 1359.2,897.1 1357.2,897.1 C1355.1,897.1 1353.3,895.9 1352.1,895.0 C1350.9,894.2 1350.3,894.4 1350.1,892.0 Z" fill="#d6dbdf" stroke="#000" stroke-width="2" stroke-linejoin="round" />
<polygon points="1373.3,864.8 1382.4,858.2 1406.6,842.1 1415.2,845.6 1387.4,860.7 1378.3,867.8" fill="#b8bdc1" stroke="#000" stroke-width="1.5" stroke-linejoin="round" />
<path d="M1356.1,896.0 C1356.3,893.5 1356.8,885.6 1357.2,880.9 C1357.5,876.2 1358.3,872.0 1358.2,867.8 C1358.0,863.6 1356.6,859.9 1356.1,855.7 C1355.6,851.5 1355.0,846.8 1355.1,842.6 C1355.3,838.4 1355.8,833.8 1357.2,830.5 C1358.5,827.1 1360.7,824.4 1363.2,822.4 C1365.7,820.4 1369.1,819.7 1372.3,818.3 C1375.5,817.0 1379.0,815.8 1382.4,814.3 C1385.7,812.8 1389.4,811.4 1392.5,809.3 C1395.5,807.1 1397.5,803.7 1400.5,801.2 C1403.6,798.7 1408.2,795.1 1410.6,794.1 C1413.1,793.1 1414.4,795.0 1415.2,795.1" fill="none" stroke="#000" stroke-width="1.8" stroke-linejoin="round" />
<polyline points="1347.6,842.9 1423.5,883.5" fill="none" stroke="#000" stroke-width="0.6"/>
<polygon points="1420.7,859.4 1466.1,833.3 1468.0,834.5 1468.0,843.2 1441.9,858.3 1439.6,858.6 1434.3,860.5 1430.2,863.9 1427.5,869.2 1427.5,890.4 1429.1,892.3 1433.6,891.5 1439.6,885.9 1466.1,870.0 1468.0,871.5 1468.0,879.8 1421.9,906.3 1420.7,905.5" fill="#1c1c1c" stroke="#000" stroke-width="1" stroke-linejoin="round" />
<polygon points="1470.2,893.6 1474.0,890.7 1497.8,877.4 1503.5,880.3 1503.5,920.2 1477.8,934.5 1470.2,931.6" fill="#8c867e" stroke="#000" stroke-width="2" stroke-linejoin="round" />
<polygon points="1470.2,893.6 1474.0,890.7 1497.8,877.4 1501.6,879.3 1477.8,892.6 1474.0,895.5" fill="#b9b3aa" stroke="#000" stroke-width="1.5" stroke-linejoin="round" />
<polyline points="1474.0,895.5 1474.0,933.5" fill="none" stroke="#000" stroke-width="1.5" stroke-linejoin="round" />
<ellipse cx="1487.3" cy="894.5" rx="3.8" ry="5.3" fill="#d5d2cc" stroke="#000" stroke-width="2" transform="rotate(-15 1487.3 894.5)"/>
<ellipse cx="1489.2" cy="896.4" rx="2.3" ry="3.0" fill="#6b6761" stroke="#000" stroke-width="0" transform="rotate(-15 1489.2 896.4)"/>
<ellipse cx="1487.3" cy="920.2" rx="3.8" ry="5.3" fill="#d5d2cc" stroke="#000" stroke-width="2" transform="rotate(-15 1487.3 920.2)"/>
<ellipse cx="1489.2" cy="922.1" rx="2.3" ry="3.0" fill="#6b6761" stroke="#000" stroke-width="0" transform="rotate(-15 1489.2 922.1)"/>
<polyline points="1513.0,910.7 1521.0,914.9" fill="none" stroke="#000" stroke-width="5"/>
<ellipse cx="1524.4" cy="916.4" rx="4.6" ry="5.7" fill="#8e8a85" stroke="#000" stroke-width="2" transform="rotate(-20 1524.4 916.4)"/>
<ellipse cx="1524.4" cy="916.4" rx="2.1" ry="2.5" fill="#333" stroke="#000" stroke-width="0" transform="rotate(0 1524.4 916.4)"/>
<polyline points="1513.0,936.4 1521.0,940.6" fill="none" stroke="#000" stroke-width="5"/>
<ellipse cx="1524.4" cy="942.1" rx="4.6" ry="5.7" fill="#8e8a85" stroke="#000" stroke-width="2" transform="rotate(-20 1524.4 942.1)"/>
<ellipse cx="1524.4" cy="942.1" rx="2.1" ry="2.5" fill="#333" stroke="#000" stroke-width="0" transform="rotate(0 1524.4 942.1)"/>
<polyline points="1490.2,895.5 1512.0,909.8" fill="none" stroke="#000" stroke-width="1.2"/>
<polyline points="1490.2,922.1 1512.0,935.4" fill="none" stroke="#000" stroke-width="1.2"/>
<polygon points="1537.7,933.5 1586.2,904.1 1587.5,905.4 1587.5,920.2 1573.8,928.8 1573.8,948.7 1587.5,939.8 1587.5,955.4 1538.6,981.4" fill="#8d8881" stroke="#000" stroke-width="2" stroke-linejoin="round" />
<polygon points="1537.7,933.5 1586.2,904.1 1587.5,905.4 1540.5,934.5" fill="#c3beb6" stroke="#000" stroke-width="1.5" stroke-linejoin="round" />
<polyline points="1540.5,934.5 1540.5,980.1" fill="none" stroke="#000" stroke-width="1.5" stroke-linejoin="round" />
<rect x="244.1" y="427.5" width="136.5" height="12.7" fill="none" stroke="#000" stroke-width="2"/>
<rect x="319.3" y="440.2" width="27.3" height="21.2" fill="none" stroke="#000" stroke-width="2"/>
<rect x="244.1" y="467.5" width="136.5" height="13.5" fill="none" stroke="#000" stroke-width="2"/>
<line x1="294.1" y1="467.5" x2="294.1" y2="481.0" stroke="#000" stroke-width="2" />
<path d="M243.5,639.5 L243.5,490 Q250,476 270,475.5 Q290,476 295,481 L302.6,489.7 L302.6,639.5 L288.5,639.5 L288.5,489.7 M257.6,481 L257.6,639.5 L243.5,639.5" fill="none" stroke="#000" stroke-width="2" stroke-linejoin="round" />
<line x1="257.2" y1="480.6" x2="257.2" y2="606.0" stroke="#000" stroke-width="1.6" />
<line x1="261.7" y1="480.6" x2="261.7" y2="606.0" stroke="#000" stroke-width="1.6" />
<line x1="279.4" y1="480.6" x2="279.4" y2="606.0" stroke="#000" stroke-width="1.6" />
<line x1="282.8" y1="480.6" x2="282.8" y2="606.0" stroke="#000" stroke-width="1.6" />
<line x1="286.5" y1="543.0" x2="286.5" y2="606.0" stroke="#000" stroke-width="1.6" />
<line x1="257.2" y1="559.2" x2="282.8" y2="559.2" stroke="#000" stroke-width="1.6" />
<line x1="261.7" y1="607.0" x2="282.8" y2="607.0" stroke="#000" stroke-width="2" />
<path d="M279.4,499 A14,16 0 0 1 279.4,530" fill="none" stroke="#000" stroke-width="1.6" stroke-linejoin="round" />
<path d="M289,526 Q286,535 280,538" fill="none" stroke="#000" stroke-width="1.6" stroke-linejoin="round" />
<path d="M261.7,507 A5,7 0 0 0 261.7,521" fill="none" stroke="#000" stroke-width="1.6" stroke-linejoin="round" />
<line x1="282.8" y1="543.0" x2="286.5" y2="543.0" stroke="#000" stroke-width="1.6" />
<line x1="261.7" y1="607.5" x2="279.4" y2="607.5" stroke="#000" stroke-width="2" />
<line x1="244.4" y1="328.0" x2="244.4" y2="415.0" stroke="#000" stroke-width="1" />
<line x1="380.0" y1="328.0" x2="380.0" y2="415.0" stroke="#000" stroke-width="1" />
<line x1="244.4" y1="340.4" x2="380.0" y2="340.4" stroke="#000" stroke-width="1" />
<polygon points="244.4,340.4 263.4,336.7 263.4,344.1" fill="#000"/>
<polygon points="380.0,340.4 361.0,344.1 361.0,336.7" fill="#000"/>
<text x="312.6" y="332.1" text-anchor="middle" font-size="28.5" >52</text>
<line x1="244.4" y1="407.0" x2="332.4" y2="407.0" stroke="#000" stroke-width="1" />
<polygon points="244.4,407.0 263.4,403.3 263.4,410.7" fill="#000"/>
<polygon points="332.4,407.0 313.4,410.7 313.4,403.3" fill="#000"/>
<text x="299.5" y="397.5" text-anchor="middle" font-size="28.5" >32</text>
<line x1="333.6" y1="371.8" x2="333.6" y2="431.0" stroke="#000" stroke-width="1" />
<line x1="333.6" y1="383.5" x2="451.9" y2="383.5" stroke="#000" stroke-width="1" />
<polygon points="333.6,383.5 352.6,379.8 352.6,387.2" fill="#000"/>
<text x="419.6" y="375.0" text-anchor="middle" font-size="27.7" >Ø12</text>
<line x1="177.4" y1="481.6" x2="232.7" y2="481.6" stroke="#000" stroke-width="1" />
<line x1="180.0" y1="639.0" x2="230.7" y2="639.0" stroke="#000" stroke-width="1" />
<line x1="193.6" y1="481.6" x2="193.6" y2="639.0" stroke="#000" stroke-width="1" />
<polygon points="193.6,481.6 197.3,500.6 189.9,500.6" fill="#000"/>
<polygon points="193.6,639.0 189.9,620.0 197.3,620.0" fill="#000"/>
<text transform="translate(191.0,559.8) rotate(-90)" text-anchor="middle" font-size="27.8" >70</text>
<line x1="392.0" y1="466.7" x2="426.4" y2="466.7" stroke="#000" stroke-width="1" />
<line x1="392.0" y1="481.6" x2="493.0" y2="481.6" stroke="#000" stroke-width="1" />
<line x1="414.3" y1="428.0" x2="414.3" y2="550.0" stroke="#000" stroke-width="1" />
<polygon points="414.3,466.7 410.6,447.7 418.0,447.7" fill="#000"/>
<polygon points="414.3,481.6 418.0,500.6 410.6,500.6" fill="#000"/>
<text transform="translate(406.5,536.3) rotate(-90)" text-anchor="middle" font-size="28.5" >6</text>
<line x1="288.0" y1="651.0" x2="288.0" y2="709.6" stroke="#000" stroke-width="1" />
<line x1="302.5" y1="651.0" x2="302.5" y2="770.0" stroke="#000" stroke-width="1" />
<line x1="249.0" y1="698.7" x2="372.0" y2="698.7" stroke="#000" stroke-width="1" />
<polygon points="288.0,698.7 269.0,702.4 269.0,695.0" fill="#000"/>
<polygon points="302.5,698.7 321.5,695.0 321.5,702.4" fill="#000"/>
<text x="368.5" y="690.3" text-anchor="middle" font-size="27.5" >5.5</text>
<path d="M569.9,738.3 C570.6,734.0 571.4,719.9 574.1,712.4 C576.8,704.9 580.4,697.9 585.9,693.5 C591.4,689.1 599.6,687.1 607.1,686.0 C614.6,684.9 622.8,686.1 630.6,687.0 C638.5,687.9 647.1,689.7 654.2,691.2 C661.3,692.7 666.3,694.8 673.0,695.9 C679.7,697.0 687.5,697.6 694.2,697.8 C700.9,698.0 705.9,698.0 713.0,697.1 C720.1,696.2 728.8,694.4 736.6,692.4 C744.5,690.4 753.4,687.1 760.1,685.3 C766.8,683.5 771.9,681.8 776.6,681.8 C781.3,681.8 785.0,683.3 788.3,685.3 C791.6,687.2 794.8,690.2 796.6,693.5 C798.4,696.8 798.5,701.5 798.9,705.3 C799.3,709.0 798.9,714.2 798.9,716.0 L798.9,750 L697.4,750 A42,42 0 0 0 631,784.2 L631,830.6 A42,42 0 0 0 698.2,864.2 L798.9,864.2 L798.9,905.4 C797.9,908.5 796.3,919.1 793.0,924.2 C789.7,929.3 783.2,933.8 778.9,936.0 C774.6,938.2 774.2,938.4 767.2,937.2 C760.2,936.0 745.6,931.2 736.6,929.0 C727.6,926.8 720.5,924.6 713.0,923.8 C705.5,923.0 699.6,923.3 691.8,924.2 C684.0,925.1 676.2,926.8 666.0,929.0 C655.8,931.2 640.4,935.6 630.6,937.2 C620.8,938.8 614.6,939.4 607.1,938.4 C599.6,937.4 591.4,935.6 585.9,931.3 C580.4,927.0 576.2,919.2 574.1,912.5 C572.0,905.8 572.4,900.3 573.0,891.3 C573.6,882.3 576.2,868.5 577.7,858.3 C579.2,848.1 581.5,839.4 581.7,830.0 C581.9,820.6 580.4,812.8 578.8,801.8 C577.1,790.8 573.3,774.8 571.8,764.2 C570.3,753.6 570.2,742.6 569.9,738.3 Z" fill="#dcd7d1" stroke="#000" stroke-width="2" stroke-linejoin="round" />
<line x1="674.4" y1="649.0" x2="674.4" y2="784.0" stroke="#000" stroke-width="1" />
<line x1="797.9" y1="649.0" x2="797.9" y2="693.0" stroke="#000" stroke-width="1" />
<line x1="674.4" y1="661.2" x2="797.9" y2="661.2" stroke="#000" stroke-width="1" />
<polygon points="674.4,661.2 693.4,657.5 693.4,664.9" fill="#000"/>
<polygon points="797.9,661.2 778.9,664.9 778.9,657.5" fill="#000"/>
<text x="736.5" y="654.0" text-anchor="middle" font-size="28.5" >44</text>
<line x1="631.3" y1="852.4" x2="631.3" y2="978.0" stroke="#000" stroke-width="1" />
<line x1="797.9" y1="917.0" x2="797.9" y2="962.0" stroke="#000" stroke-width="1" />
<line x1="631.3" y1="959.7" x2="797.9" y2="959.7" stroke="#000" stroke-width="1" />
<polygon points="631.3,959.7 650.3,956.0 650.3,963.4" fill="#000"/>
<polygon points="797.9,959.7 778.9,963.4 778.9,956.0" fill="#000"/>
<text x="716.0" y="984.0" text-anchor="middle" font-size="28" >59</text>
<line x1="768.3" y1="751.2" x2="768.3" y2="864.2" stroke="#000" stroke-width="1" />
<polygon points="768.3,751.2 772.0,770.2 764.6,770.2" fill="#000"/>
<polygon points="768.3,864.2 764.6,845.2 772.0,845.2" fill="#000"/>
<text transform="translate(760.0,806.5) rotate(-90)" text-anchor="middle" font-size="29" >39</text>
<line x1="542.5" y1="785.3" x2="661.2" y2="785.3" stroke="#000" stroke-width="1" />
<line x1="542.5" y1="830.5" x2="661.2" y2="830.5" stroke="#000" stroke-width="1" />
<line x1="554.6" y1="746.0" x2="554.6" y2="869.0" stroke="#000" stroke-width="1" />
<polygon points="554.6,785.3 550.9,766.3 558.3,766.3" fill="#000"/>
<polygon points="554.6,830.5 558.3,849.5 550.9,849.5" fill="#000"/>
<text transform="translate(545.5,808.4) rotate(-90)" text-anchor="middle" font-size="27" >16</text>
<line x1="667.0" y1="784.2" x2="679.0" y2="784.2" stroke="#000" stroke-width="1" />
<line x1="673.0" y1="778.2" x2="673.0" y2="790.2" stroke="#000" stroke-width="1" />
<line x1="667.0" y1="830.6" x2="679.0" y2="830.6" stroke="#000" stroke-width="1" />
<line x1="673.0" y1="824.6" x2="673.0" y2="836.6" stroke="#000" stroke-width="1" />
<line x1="494.0" y1="715.6" x2="671.8" y2="785.3" stroke="#000" stroke-width="1" />
<polygon points="633.0,769.0 614.0,765.5 616.7,758.6" fill="#000"/>
<text transform="translate(528.4,719.5) rotate(21.4)" text-anchor="middle" font-size="27.5" >R15</text>
<path d="M876.6,938.4 L876.6,690.2 C878.9,689.8 883.0,688.7 890.3,687.8 C897.6,686.9 910.4,684.7 920.5,684.7 C930.6,684.7 941.7,685.9 950.8,687.8 C959.9,689.7 968.5,694.3 975.0,696.2 C981.5,698.1 984.6,699.1 990.1,699.3 C995.6,699.5 1001.7,698.7 1008.3,697.5 C1014.9,696.3 1022.4,693.7 1029.5,692.3 C1036.6,690.9 1044.7,688.5 1050.7,689.3 C1056.8,690.1 1061.8,693.1 1065.8,696.9 C1069.8,700.7 1073.1,706.0 1074.9,712.0 C1076.7,718.0 1076.7,725.1 1076.4,733.2 C1076.2,741.3 1074.4,750.3 1073.4,760.4 C1072.4,770.5 1070.5,782.1 1070.3,793.7 C1070.0,805.3 1070.6,817.9 1071.9,830.0 C1073.2,842.1 1076.5,856.2 1077.9,866.3 C1079.3,876.4 1080.0,882.0 1080.3,890.6 C1080.5,899.2 1080.8,910.2 1079.4,917.8 C1078.0,925.4 1075.2,931.5 1071.9,936.0 C1068.6,940.5 1064.8,943.1 1059.8,945.0 C1054.8,946.9 1049.7,947.5 1041.6,947.5 C1033.5,947.5 1021.4,946.2 1011.3,945.0 C1001.2,943.8 991.2,942.0 981.1,940.5 C971.0,939.0 960.9,936.9 950.8,936.0 C940.7,935.1 930.6,935.1 920.5,935.4 C910.4,935.6 897.6,937.0 890.3,937.5 C883.0,938.0 878.9,938.2 876.6,938.4 Z" fill="#dcd7d1" stroke="#000" stroke-width="2" stroke-linejoin="round" />
<circle cx="987.7" cy="783.7" r="23" fill="#fff" stroke="#000" stroke-width="2"/>
<line x1="944.7" y1="783.7" x2="1029.5" y2="783.7" stroke="#000" stroke-width="1" />
<circle cx="987.7" cy="870.3" r="23" fill="#fff" stroke="#000" stroke-width="2"/>
<line x1="944.7" y1="870.3" x2="1029.5" y2="870.3" stroke="#000" stroke-width="1" />
<line x1="987.7" y1="624.2" x2="987.7" y2="733.0" stroke="#000" stroke-width="1" />
<line x1="987.7" y1="741.0" x2="987.7" y2="828.0" stroke="#000" stroke-width="1" />
<line x1="987.7" y1="832.0" x2="987.7" y2="913.0" stroke="#000" stroke-width="1" />
<line x1="876.6" y1="624.2" x2="876.6" y2="678.0" stroke="#000" stroke-width="1" />
<line x1="876.6" y1="636.3" x2="987.7" y2="636.3" stroke="#000" stroke-width="1" />
<polygon points="876.6,636.3 895.6,632.6 895.6,640.0" fill="#000"/>
<polygon points="987.7,636.3 968.7,640.0 968.7,632.6" fill="#000"/>
<text x="931.1" y="627.5" text-anchor="middle" font-size="29" >31</text>
<line x1="920.5" y1="783.7" x2="934.0" y2="783.7" stroke="#000" stroke-width="1" />
<line x1="920.5" y1="870.3" x2="934.0" y2="870.3" stroke="#000" stroke-width="1" />
<line x1="932.6" y1="783.7" x2="932.6" y2="870.3" stroke="#000" stroke-width="1" />
<polygon points="932.6,783.7 936.3,802.7 928.9,802.7" fill="#000"/>
<polygon points="932.6,870.3 928.9,851.3 936.3,851.3" fill="#000"/>
<text transform="translate(926.0,827.0) rotate(-90)" text-anchor="middle" font-size="29" >30</text>
<line x1="940.2" y1="826.4" x2="1093.0" y2="689.3" stroke="#000" stroke-width="1" />
<polygon points="970.6,799.1 958.9,814.5 954.0,809.0" fill="#000"/>
<polygon points="1004.8,768.3 1016.5,752.9 1021.4,758.4" fill="#000"/>
<text transform="translate(1035.7,684.4) rotate(-45)" text-anchor="middle" font-size="29" >Ø16</text>
<text transform="translate(1058.0,710.0) rotate(-45)" text-anchor="middle" font-size="26" >2отв.</text>
<text x="830.0" y="550.8" text-anchor="middle" font-size="28" >Эскиз установочных</text>
<text x="830.5" y="583.7" text-anchor="middle" font-size="28" >отверстий в стекле</text>
<text x="778.0" y="1037.4" text-anchor="middle" font-size="28" >В комплекте прокладки для стекла 6 мм, 8 мм, 10 мм</text>
<text x="774.2" y="1080.5" text-anchor="middle" font-size="28" >Диаметр втулок для монтажных отверстий стекла - 11мм</text>
<rect x="1174.4" y="992.7" width="453.1" height="140.6" fill="none" stroke="#000" stroke-width="1.2"/>
<text x="1205.0" y="1051.2" text-anchor="start" font-size="28" >FDP-233 BR</text>
<text x="1206.0" y="1094.0" text-anchor="start" font-size="28" >khancorp.ru</text>
</svg></body></html>
